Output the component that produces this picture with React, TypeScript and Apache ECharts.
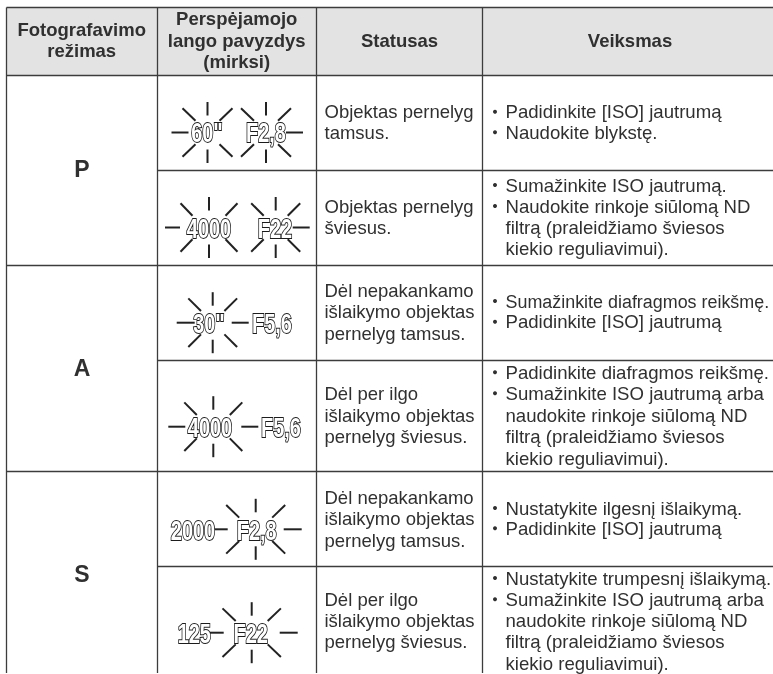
import React, { useEffect, useRef } from "react";
import * as echarts from "echarts";

const headerMode = ["Fotografavimo", "režimas"];
const headerWindow = ["Perspėjamojo", "lango pavyzdys", "(mirksi)"];
const headerStatus = ["Statusas"];
const headerAction = ["Veiksmas"];
const modes = ["P", "A", "S"];
const statusTexts = [
  ["Objektas pernelyg", "tamsus."],
  ["Objektas pernelyg", "šviesus."],
  ["Dėl nepakankamo", "išlaikymo objektas", "pernelyg tamsus."],
  ["Dėl per ilgo", "išlaikymo objektas", "pernelyg šviesus."],
  ["Dėl nepakankamo", "išlaikymo objektas", "pernelyg tamsus."],
  ["Dėl per ilgo", "išlaikymo objektas", "pernelyg šviesus."],
];
const actionTexts = [
  [["Padidinkite [ISO] jautrumą"], ["Naudokite blykstę."]],
  [["Sumažinkite ISO jautrumą."], ["Naudokite rinkoje siūlomą ND", "filtrą (praleidžiamo šviesos", "kiekio reguliavimui)."]],
  [["Sumažinkite diafragmos reikšmę."], ["Padidinkite [ISO] jautrumą"]],
  [["Padidinkite diafragmos reikšmę."], ["Sumažinkite ISO jautrumą arba", "naudokite rinkoje siūlomą ND", "filtrą (praleidžiamo šviesos", "kiekio reguliavimui)."]],
  [["Nustatykite ilgesnį išlaikymą."], ["Padidinkite [ISO] jautrumą"]],
  [["Nustatykite trumpesnį išlaikymą."], ["Sumažinkite ISO jautrumą arba", "naudokite rinkoje siūlomą ND", "filtrą (praleidžiamo šviesos", "kiekio reguliavimui)."]],
];
const windowLabels = [
  ["60\"", "F2,8"],
  ["4000", "F22"],
  ["30\"", "F5,6"],
  ["4000", "F5,6"],
  ["2000", "F2,8"],
  ["125", "F22"],
];

// Layout
const INK = "#303030";
const LINE = "#3c3c3c";
const FONT = "'Liberation Sans', Arial, sans-serif";
const colX = [6.5, 157.5, 316.5, 482.5];
const rowY = [75.5, 170.5, 265.5, 360.5, 471.5, 566.5];
const rowStartCol = [0, 1, 0, 1, 0, 1];
const TOP = 7.5;
const END_Y = 673;
const statusLineY = [
  [111.7, 132.3],
  [206, 227],
  [290, 311.5, 333],
  [393, 415, 436],
  [497, 518, 540],
  [599, 620.5, 641.7],
];
const actionLineY = [
  [111.7, 132.3],
  [185, 206, 227, 248],
  [301, 321.7],
  [372.3, 393.3, 415, 436.7, 458],
  [508, 528.3],
  [578, 599.3, 620, 641.7, 663],
];
const modeY = [169, 368, 574];
// cx, cy, inner/outer diagonal dx, left ray [outer, inner] or null, right ray [inner, outer] or null
const bursts: any[] = [
  [207.5, 132.5, 12, 25, [36, 19], null],
  [266, 132.5, 12, 25, null, [20, 37]],
  [209, 227.5, 16.5, 28.5, [44, 29], null],
  [275.7, 227.5, 12, 24.5, null, [17, 34]],
  [212.7, 322.7, 11.7, 24.4, [36, 18], [19, 36]],
  [213.3, 426.7, 16.5, 29, [45, 28], [28, 45]],
  [255.7, 529.3, 16.5, 29.5, [45, 28], [28, 46]],
  [251.7, 632.7, 16, 29.2, [45, 28], [28, 46]],
];
const labelPos = [
  [[207, 132.5], [266, 132.5]],
  [[209, 228], [275, 228]],
  [[209, 323], [272, 323]],
  [[210, 427], [281, 427]],
  [[193, 530], [256.7, 530]],
  [[194.3, 633], [250.7, 633]],
];
const SQUEEZED = "Sumažinkite diafragmos reikšmę.";

function buildGraphics() {
  const els: any[] = [];
  const line = (x1: number, y1: number, x2: number, y2: number, w = 1.3, c = LINE) =>
    els.push({ type: "line", shape: { x1, y1, x2, y2 }, style: { stroke: c, lineWidth: w } });
  const text = (t: string, x: number, y: number, size: number, bold: boolean, align = "left", scaleX = 1) =>
    els.push({
      type: "text", x, y, scaleX,
      style: { text: t, fill: INK, font: `${bold ? "bold " : ""}${size}px ${FONT}`, textAlign: align, textVerticalAlign: "middle" },
    });

  els.push({ type: "rect", shape: { x: colX[0], y: TOP, width: 773 - colX[0], height: rowY[0] - TOP }, style: { fill: "#e3e3e3" } });

  line(colX[0], TOP, 773, TOP);
  rowY.forEach((y, i) => line(colX[rowStartCol[i]], y, 773, y));
  colX.forEach((x) => line(x, TOP, x, END_Y));

  const header = (lines: string[], cx: number, ys: number[]) => lines.forEach((l, i) => text(l, cx, ys[i], 18.5, true, "center"));
  header(headerMode, 81.7, [29, 50]);
  header(headerWindow, 236.7, [18.5, 40, 61.7]);
  header(headerStatus, 399.5, [40]);
  header(headerAction, 630, [40]);

  modes.forEach((m, i) => text(m, 82, modeY[i], 23, true, "center"));

  statusTexts.forEach((lines, r) => lines.forEach((l, i) => text(l, 324.5, statusLineY[r][i], 18.5, false)));

  actionTexts.forEach((items, r) => {
    let k = 0;
    items.forEach((lines) => {
      lines.forEach((l, i) => {
        const y = actionLineY[r][k++];
        if (i === 0) els.push({ type: "circle", shape: { cx: 495, cy: y, r: 2 }, style: { fill: INK } });
        text(l, 505.5, y, 18.6, false, "left", l === SQUEEZED ? 0.963 : 1);
      });
    });
  });

  bursts.forEach(([cx, cy, di, dx, left, right]) => {
    const W = 2;
    line(cx, cy - 30.5, cx, cy - 17, W, "#222");
    line(cx, cy + 17, cx, cy + 30.5, W, "#222");
    [[-1, -1], [1, -1], [-1, 1], [1, 1]].forEach(([sx, sy]) =>
      line(cx + sx * di, cy + sy * 11.7, cx + sx * dx, cy + sy * 24.3, W, "#222"));
    if (left) line(cx - left[0], cy, cx - left[1], cy, W, "#222");
    if (right) line(cx + right[0], cy, cx + right[1], cy, W, "#222");
  });

  windowLabels.forEach((pair, r) => pair.forEach((t, i) => {
    const [x, y] = labelPos[r][i];
    els.push({
      type: "text", x, y, scaleX: 0.74, z: 10,
      style: {
        text: t, fill: "#ffffff", stroke: "#1c1c1c", lineWidth: 2,
        font: `bold 27px ${FONT}`, textAlign: "center", textVerticalAlign: "middle",
      },
    });
  }));
  return els;
}

export default function App() {
  const ref = useRef<HTMLDivElement>(null);
  useEffect(() => {
    document.body.style.margin = "0";
    const chart = echarts.init(ref.current!, undefined, { renderer: "svg" });
    chart.setOption({ animation: false, backgroundColor: "#ffffff", graphic: { elements: buildGraphics() } });
    return () => chart.dispose();
  }, []);
  return <div ref={ref} style={{ width: 773, height: 674, filter: "grayscale(1) blur(0.3px)" }} />;
}
